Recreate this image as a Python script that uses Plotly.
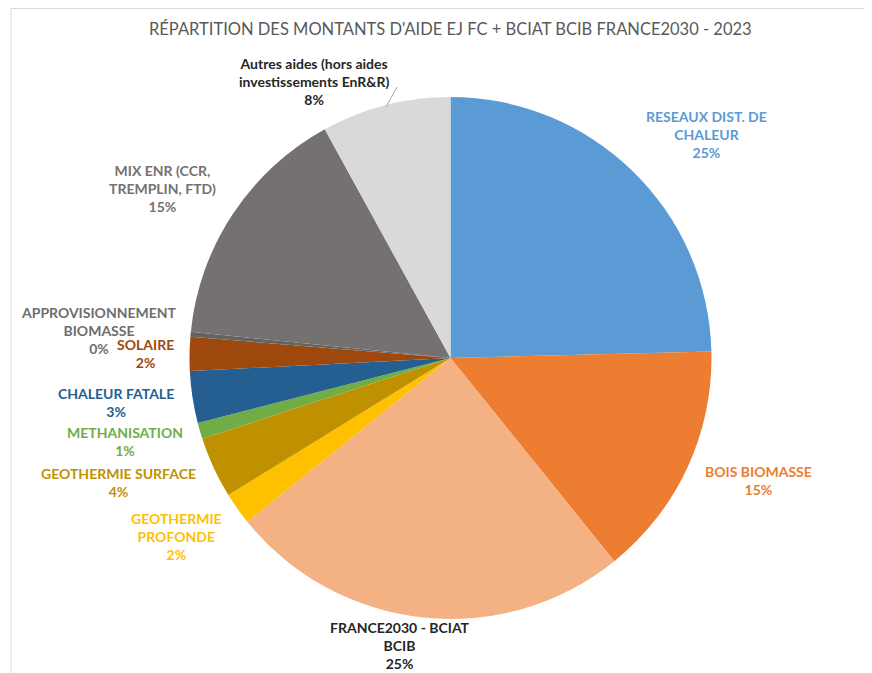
import plotly.graph_objects as go

# ---- data ----
labels = [
    "RESEAUX DIST. DE<br>CHALEUR",
    "BOIS BIOMASSE",
    "FRANCE2030 - BCIAT<br>BCIB",
    "GEOTHERMIE<br>PROFONDE",
    "GEOTHERMIE SURFACE",
    "METHANISATION",
    "CHALEUR FATALE",
    "SOLAIRE",
    "APPROVISIONNEMENT<br>BIOMASSE",
    "MIX ENR (CCR,<br>TREMPLIN, FTD)",
    "Autres aides (hors aides<br>investissements EnR&R)",
]
values = [24.6, 14.6, 25.0, 2.0, 3.8, 1.0, 3.2, 2.1, 0.3, 15.4, 8.0]
slice_colors = ["#5B9BD5", "#ED7D31", "#F4B183", "#FFC000", "#BF9000", "#70AD47",
                "#255E91", "#9E480E", "#636363", "#767171", "#D9D9D9"]
text_colors = ["#5B9BD5", "#ED7D31", "#262626", "#FFC000", "#BF9000", "#70AD47",
               "#255E91", "#9E480E", "#6E6E6E", "#767171", "#262626"]
# label centre positions (pixels from top-left of the page)
label_pos = [(706, 134), (758, 481), (400, 645), (176, 536), (118, 482), (125, 441),
             (116, 402), (145, 354), (99, 330), (162, 189), (314, 81)]
title = "RÉPARTITION DES MONTANTS D'AIDE EJ FC + BCIAT BCIB FRANCE2030 - 2023"

W, H = 872, 673
OFF = 8  # page body margin offset
cx, cy, r = 450.5 - OFF, 358 - OFF, 261


def px(x):
    return (x - OFF) / W


def py(y):
    return 1 - (y - OFF) / H


fig = go.Figure(go.Pie(
    labels=labels, values=values, sort=False, direction="clockwise", rotation=0,
    marker=dict(colors=slice_colors, line=dict(width=0)),
    textinfo="none", hoverinfo="label+percent", showlegend=False,
    domain=dict(x=[(cx - r) / W, (cx + r) / W], y=[(H - cy - r) / H, (H - cy + r) / H]),
))

total = sum(values)
annotations = [dict(
    x=px(450), y=py(29), xref="paper", yref="paper", showarrow=False,
    text=title, font=dict(family="Lato", size=16.5, color="#595959"),
    xanchor="center", yanchor="middle")]
for lab, v, col, (lx, ly) in zip(labels, values, text_colors, label_pos):
    pct = round(v / total * 100)
    annotations.append(dict(
        x=px(lx), y=py(ly), xref="paper", yref="paper", showarrow=False,
        text=f"<b>{lab}<br>{pct}%</b>", align="center",
        font=dict(family="Lato", size=14, color=col),
        xanchor="center", yanchor="middle"))

shapes = [
    dict(type="rect", xref="paper", yref="paper", x0=px(11), x1=1.2, y0=-0.2, y1=py(8.5),
         line=dict(color="#D9D9D9", width=1)),
    dict(type="line", xref="paper", yref="paper", x0=px(397), y0=py(87), x1=px(386), y1=py(107),
         line=dict(color="#A6A6A6", width=1)),
]

fig.update_layout(
    width=W, height=H, autosize=False,
    margin=dict(l=0, r=0, t=0, b=0),
    paper_bgcolor="white", plot_bgcolor="white",
    annotations=annotations, shapes=shapes,
)
fig.write_html("out.html")
